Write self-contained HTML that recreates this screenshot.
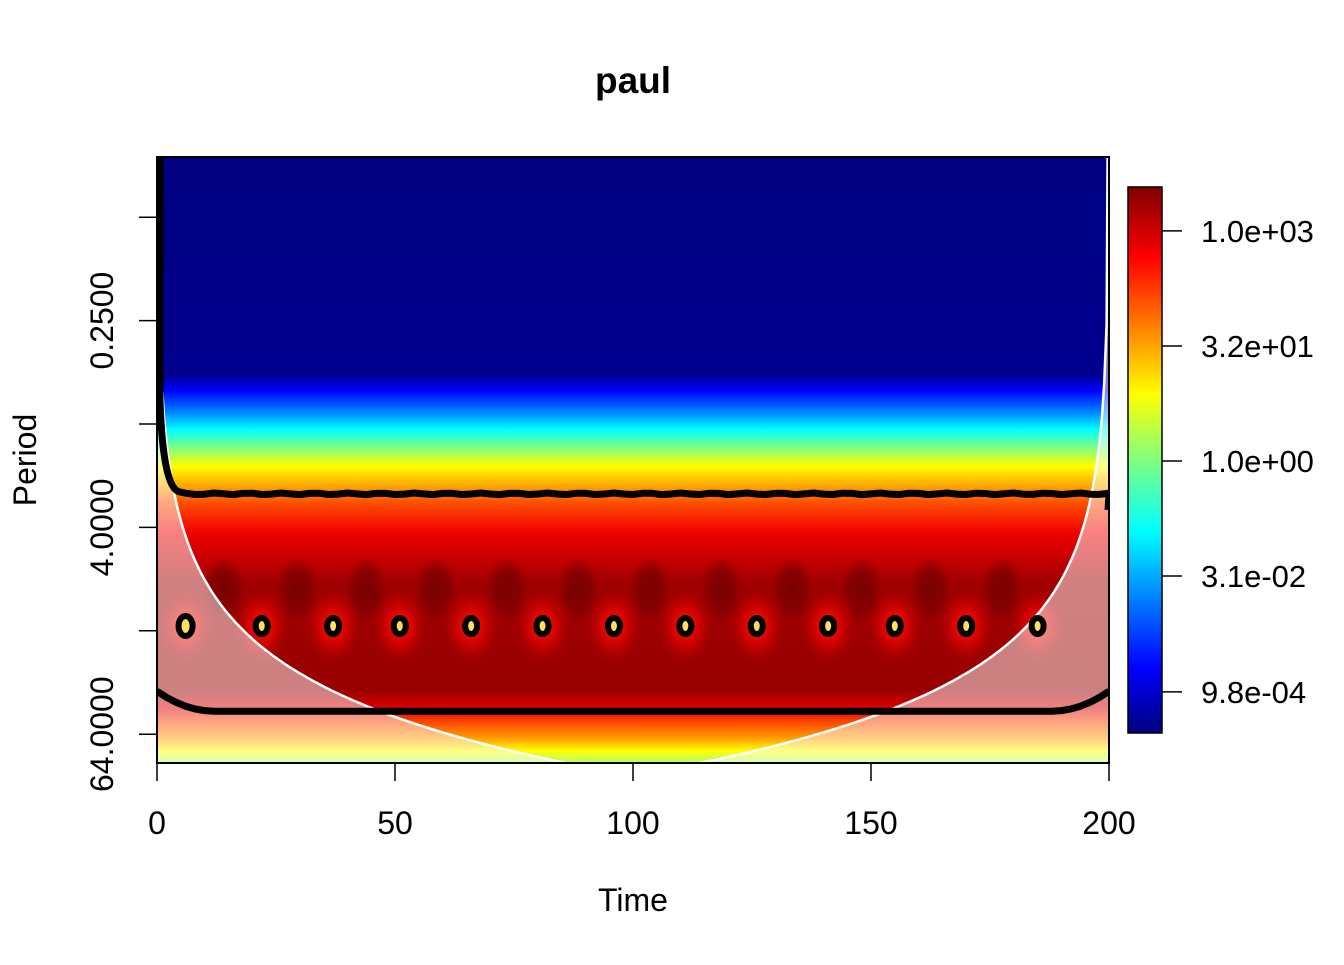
<!DOCTYPE html>
<html><head><meta charset="utf-8"><style>
body{margin:0;background:#fff;}
svg text{font-family:"Liberation Sans",Arial,sans-serif;fill:#000;}
</style></head><body>
<svg id="c" width="1344" height="960" xmlns="http://www.w3.org/2000/svg">
<defs>
<linearGradient id="field" x1="0" y1="157" x2="0" y2="763" gradientUnits="userSpaceOnUse">
<stop offset="0" stop-color="#00007f"/>
<stop offset="0.36" stop-color="#00008f"/>
<stop offset="0.385" stop-color="#0000ff"/>
<stop offset="0.42" stop-color="#0080ff"/>
<stop offset="0.45" stop-color="#00ffff"/>
<stop offset="0.48" stop-color="#80ff80"/>
<stop offset="0.51" stop-color="#ffff00"/>
<stop offset="0.545" stop-color="#ffa000"/>
<stop offset="0.57" stop-color="#ff5000"/>
<stop offset="0.62" stop-color="#f00000"/>
<stop offset="0.67" stop-color="#c00000"/>
<stop offset="0.7" stop-color="#a00000"/>
<stop offset="0.88" stop-color="#980000"/>
<stop offset="0.91" stop-color="#e00000"/>
<stop offset="0.935" stop-color="#ff5000"/>
<stop offset="0.96" stop-color="#ffa000"/>
<stop offset="0.98" stop-color="#ffff00"/>
<stop offset="1" stop-color="#b0ff70"/>
</linearGradient>
<linearGradient id="cbar" x1="0" y1="733" x2="0" y2="187" gradientUnits="userSpaceOnUse">
<stop offset="0" stop-color="#00007f"/>
<stop offset="0.12" stop-color="#0000ff"/>
<stop offset="0.37" stop-color="#00ffff"/>
<stop offset="0.5" stop-color="#80ff80"/>
<stop offset="0.62" stop-color="#ffff00"/>
<stop offset="0.87" stop-color="#ff0000"/>
<stop offset="1" stop-color="#7f0000"/>
</linearGradient>
<radialGradient id="blob"><stop offset="0" stop-color="#7a0000"/><stop offset="0.6" stop-color="#800000" stop-opacity="0.8"/><stop offset="1" stop-color="#900000" stop-opacity="0"/></radialGradient>
<radialGradient id="glow"><stop offset="0" stop-color="#ff2000"/><stop offset="0.5" stop-color="#e00000" stop-opacity="0.7"/><stop offset="1" stop-color="#a00000" stop-opacity="0"/></radialGradient>
<clipPath id="pa"><rect x="157" y="157" width="952" height="606"/></clipPath>
</defs>
<rect x="157" y="157" width="952" height="606" fill="url(#field)"/>
<g id="marks" clip-path="url(#pa)"></g>
<rect x="157" y="157" width="952" height="606" fill="none" stroke="#000" stroke-width="2"/>
<text x="633" y="93" font-size="37" font-weight="bold" text-anchor="middle">paul</text>
<text x="633" y="911" font-size="32" text-anchor="middle">Time</text>
<text transform="translate(36,460) rotate(-90)" font-size="32" text-anchor="middle">Period</text>
<g id="axes"></g>
<rect x="1128" y="187" width="34" height="546" fill="url(#cbar)" stroke="#000" stroke-width="1.5"/>
</svg>
<script>
const xTicks=[0,50,100,150,200];
const yTicks=[0.0625,0.25,1,4,16,64];
const yTickLabels=["","0.2500","","4.0000","","64.0000"];
const cbarLabels=["1.0e+03","3.2e+01","1.0e+00","3.1e-02","9.8e-04"];
const cbarLog=[3,1.5,0,-1.5,-3.01];
const dotTimes=[6,22,37,51,66,81,96,111,126,141,155,170,185];
const dotPeriod=[15];
const blobPeriod=[9.3];
const upperContourPeriod=[2.55];
const lowerContourPeriod=[47];
const coiCoef=[0.58];
const coiExp=[1.143];
const NS="http://www.w3.org/2000/svg";
const X=t=>157+t*952/200;
const Y=p=>424+51.7*Math.log2(p);
const CY=v=>461-v*76.7;
const svg=document.getElementById('c'),marks=document.getElementById('marks'),axes=document.getElementById('axes');
function mk(tag,attrs,parent){const e=document.createElementNS(NS,tag);for(const k in attrs)e.setAttribute(k,attrs[k]);parent.appendChild(e);return e;}
for(let i=0;i<dotTimes.length-1;i++){
 const t=(dotTimes[i]+dotTimes[i+1])/2;
 const e=mk('ellipse',{cx:X(t),cy:Y(blobPeriod[0]),rx:22,ry:34,fill:'url(#blob)'},marks);
 
 
}
dotTimes.forEach(t=>{
 const g=mk('ellipse',{cx:X(t),cy:Y(dotPeriod[0]),rx:30,ry:40,fill:'url(#glow)'},marks);
 
 
});
const pts=[];
for(let i=0;i<=400;i++){const t=i/2;const d=Math.min(t,200-t);const p=Math.max(coiCoef[0]*Math.pow(d,coiExp[0]),0.001);pts.push([X(t),Math.min(Y(p),766)]);}
const cpath='M'+pts.map(p=>p[0].toFixed(1)+','+p[1].toFixed(1)).join(' L');
const out=mk('path',{d:'M157,157 L157,763 L1109,763 L1109,157 '+pts.slice().reverse().map(p=>'L'+p[0].toFixed(1)+','+p[1].toFixed(1)).join(' ')+' Z',fill:'#fff','fill-opacity':0.5,'fill-rule':'evenodd'},marks);


const cl=mk('path',{d:cpath,fill:'none',stroke:'#fff','stroke-width':2.5},marks);


let up='',lo='';
for(let i=0;i<=200;i+=2){const t=i;const e=Math.min(t,200-t);
 const yu=Y(upperContourPeriod[0])+0.8*Math.sin(t*0.9);
 if(X(t)>185) up+='L'+X(t).toFixed(1)+','+yu.toFixed(1)+' ';
 const yl=Y(lowerContourPeriod[0])-(e<12?Math.pow((12-e)/12,2)*20:0);
 lo+=(i?'L':'M')+X(t).toFixed(1)+','+yl.toFixed(1)+' ';}
up='M160,157 L160,400 Q163,490 180,492 '+up+' L1108,510';
const u=mk('path',{d:up,fill:'none',stroke:'#000','stroke-width':7,'stroke-linejoin':'round'},marks);


const l=mk('path',{d:lo,fill:'none',stroke:'#000','stroke-width':7},marks);


dotTimes.forEach((t,i)=>{
 const c=mk('ellipse',{cx:X(t),cy:Y(dotPeriod[0]),rx:i==0?7:6,ry:i==0?10:8,fill:'#ffe060',stroke:'#000','stroke-width':6},marks);
 
 
});
xTicks.forEach(t=>{
 const ln=mk('line',{x1:X(t),x2:X(t),y1:763,y2:781,stroke:'#000','stroke-width':1.5},axes);
 
 
 const tx=mk('text',{x:X(t),y:834,'font-size':32,'text-anchor':'middle'},axes);tx.textContent=t;
 
 
});
yTicks.forEach((p,i)=>{
 const ln=mk('line',{x1:139,x2:157,y1:Y(p),y2:Y(p),stroke:'#000','stroke-width':1.5},axes);
 
 
 if(yTickLabels[i]){const tx=mk('text',{transform:`translate(113,${Y(p)}) rotate(-90)`,'font-size':32,'text-anchor':'middle'},axes);tx.textContent=yTickLabels[i];
 
 }
});
cbarLabels.forEach((s,i)=>{
 const y=CY(cbarLog[i]);
 const ln=mk('line',{x1:1162,x2:1182,y1:y,y2:y,stroke:'#000','stroke-width':1.5},axes);
 
 
 const tx=mk('text',{x:1201,y:y+11,'font-size':31},axes);tx.textContent=s;
 
 
});
</script>
</body></html>
